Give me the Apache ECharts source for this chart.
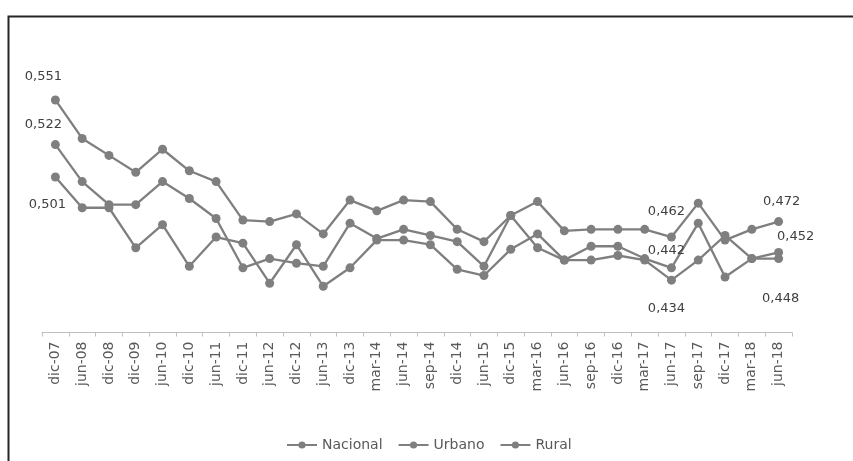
<!DOCTYPE html>
<html>
<head>
<meta charset="utf-8">
<script src="https://cdn.jsdelivr.net/npm/echarts@6/dist/echarts.min.js"></script>
<style>
html,body{margin:0;padding:0;background:#fff;}
#chart{width:853px;height:461px;}
</style>
</head>
<body>
<div id="chart"></div>
<script>
const categories = ['dic-07','jun-08','dic-08','dic-09','jun-10','dic-10','jun-11','dic-11','jun-12','dic-12','jun-13','dic-13','mar-14','jun-14','sep-14','dic-14','jun-15','dic-15','mar-16','jun-16','sep-16','dic-16','mar-17','jun-17','sep-17','dic-17','mar-18','jun-18'];
const nacional = [0.551,0.526,0.515,0.504,0.519,0.505,0.498,0.473,0.472,0.477,0.464,0.486,0.479,0.486,0.485,0.467,0.459,0.476,0.485,0.466,0.467,0.467,0.467,0.462,0.484,0.460,0.467,0.472];
const urbano = [0.522,0.498,0.483,0.483,0.498,0.487,0.474,0.442,0.448,0.445,0.443,0.471,0.461,0.467,0.463,0.459,0.443,0.476,0.455,0.447,0.456,0.456,0.448,0.442,0.471,0.436,0.448,0.452];
const rural = [0.501,0.481,0.481,0.455,0.470,0.443,0.462,0.458,0.432,0.457,0.430,0.442,0.460,0.460,0.457,0.441,0.437,0.454,0.464,0.447,0.447,0.450,0.447,0.434,0.447,0.463,0.448,0.448];
const seriesNames = ['Nacional','Urbano','Rural'];

// label placement (style only): index -> offset
const labelOffsets = {
  Nacional: {0:[-12,-23], 23:[-5,-25], 27:[3,-20]},
  Urbano: {0:[-12,-20], 23:[-5,-17], 27:[17,-16]},
  Rural: {0:[-8,28], 23:[-5,28], 27:[2,40]}
};

const FONT = 'DejaVu Sans';
const GRAY = '#7f7f7f';

function build(name, values){
  const offs = labelOffsets[name];
  return values.map(function(v,i){
    if (offs[i]) {
      return {value:v, label:{show:true, position:'inside', offset:offs[i],
        formatter:function(p){return p.value.toFixed(3).replace('.',',');},
        color:'#404040', fontFamily:FONT, fontSize:13}};
    }
    return v;
  });
}

const chart = echarts.init(document.getElementById('chart'), null, {renderer:'canvas'});
chart.setOption({
  animation:false,
  backgroundColor:'#fff',
  graphic:[{type:'rect', left:6, top:14, shape:{x:0,y:0,width:860,height:460},
    style:{fill:'none', stroke:'#262626', lineWidth:2}, z:100}],
  grid:{left:42, right:61, top:55.3, bottom:128.5, containLabel:false},
  legend:{
    data:seriesNames, left:281, top:433,
    itemWidth:30, itemHeight:9, itemGap:15,
    textStyle:{color:'#595959', fontFamily:FONT, fontSize:14}
  },
  xAxis:{
    type:'category', data:categories, boundaryGap:true,
    axisLine:{lineStyle:{color:'#bfbfbf', width:1}},
    axisTick:{show:true, length:4, lineStyle:{color:'#bfbfbf'}},
    axisLabel:{rotate:90, interval:0, margin:9, color:'#595959', fontFamily:FONT, fontSize:14}
  },
  yAxis:{type:'value', min:0.40, max:0.58, show:false, splitLine:{show:false}},
  series: [
    ['Nacional', nacional], ['Urbano', urbano], ['Rural', rural]
  ].map(function(s){
    return {
      name:s[0], type:'line', data:build(s[0], s[1]),
      symbol:'circle', symbolSize:9, showAllSymbol:true,
      lineStyle:{color:GRAY, width:2.3},
      itemStyle:{color:GRAY},
      label:{show:false},
      emphasis:{disabled:true}
    };
  })
});
</script>
</body>
</html>
